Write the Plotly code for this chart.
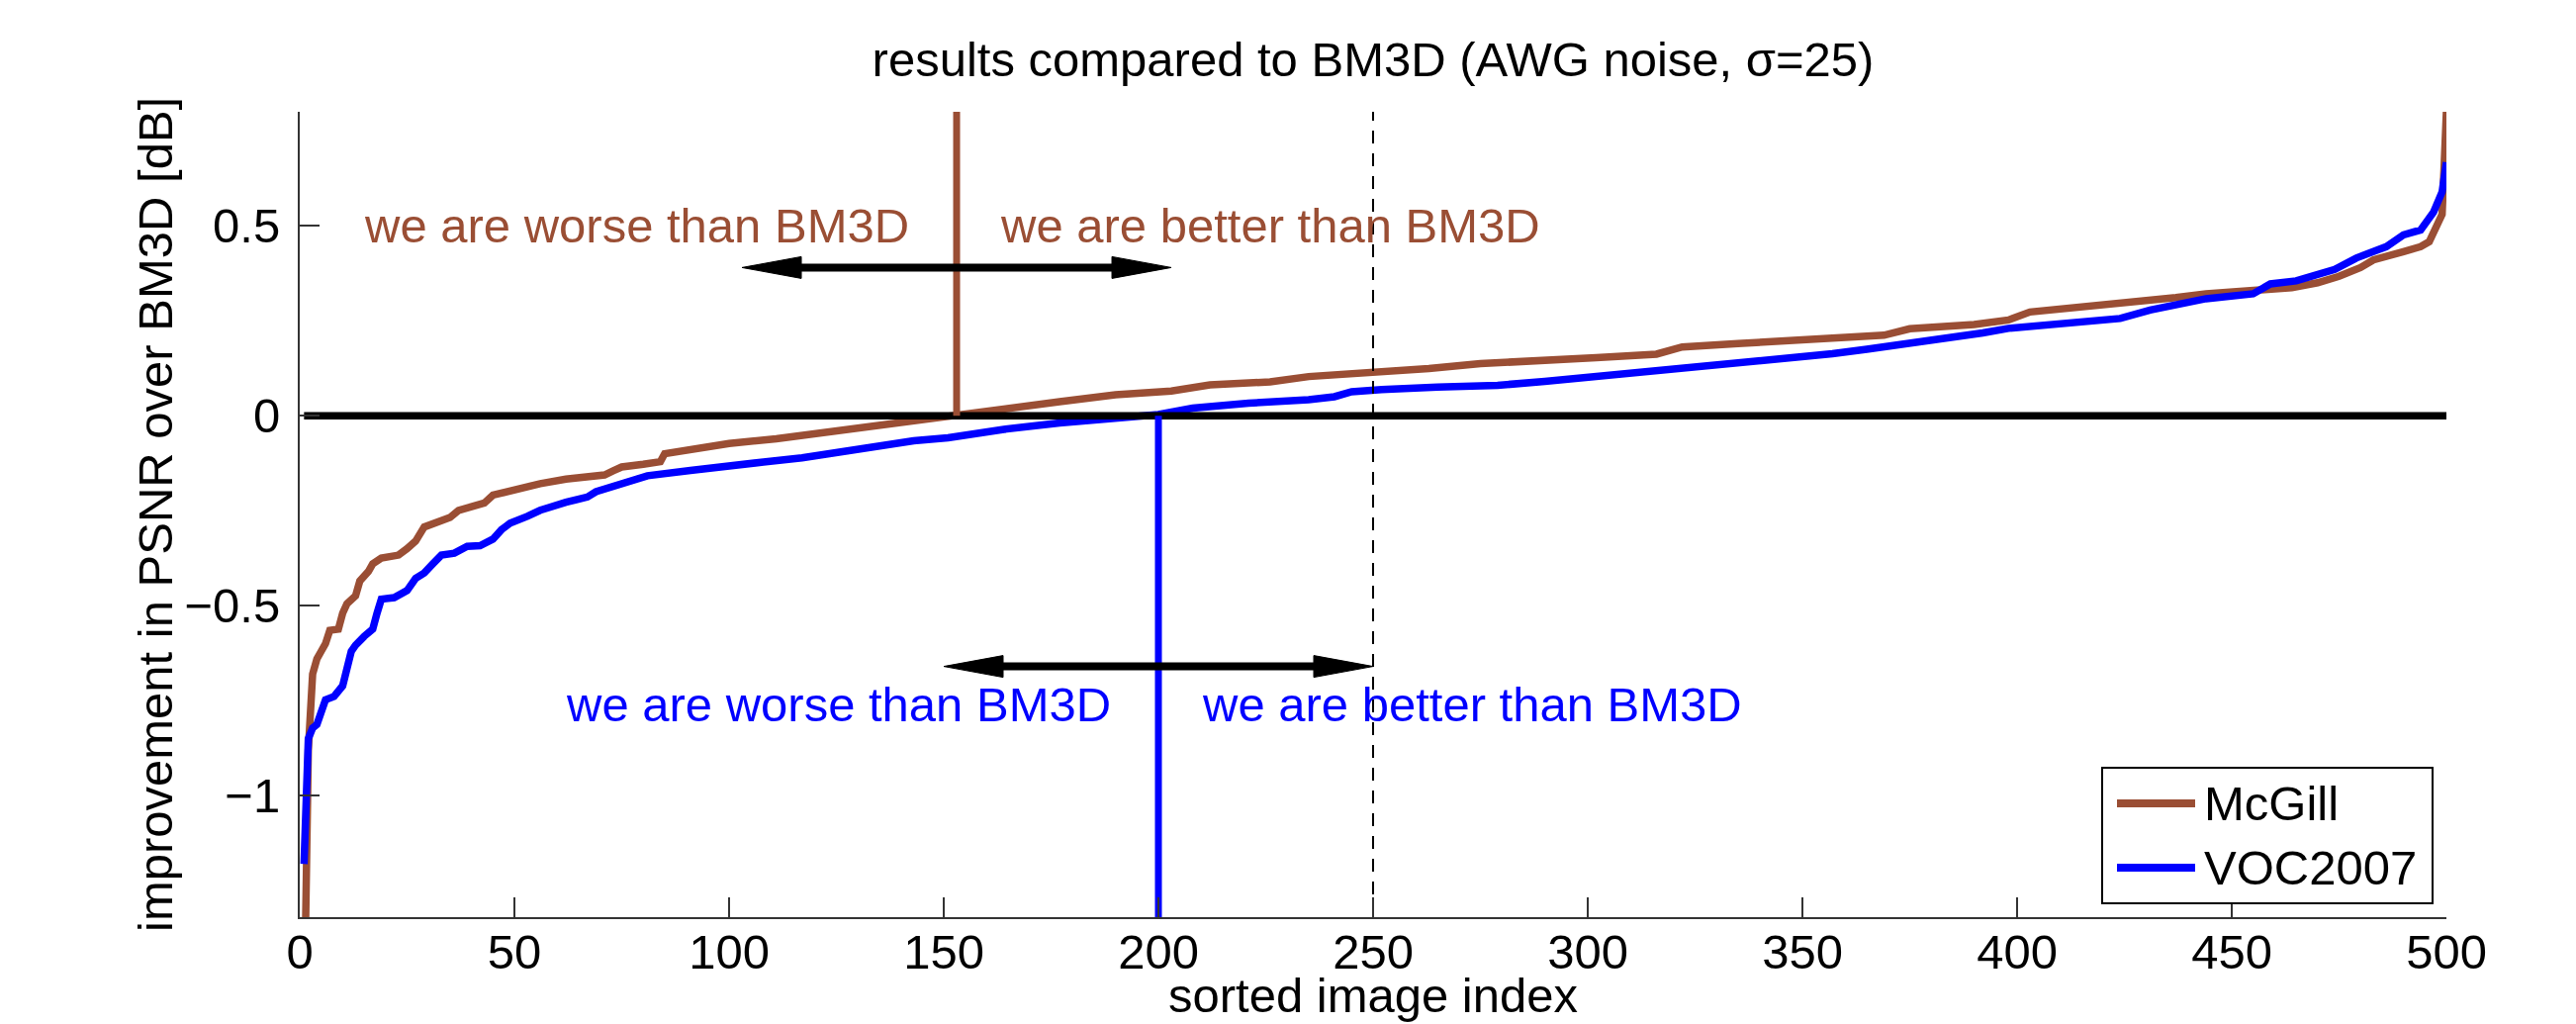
import plotly.graph_objects as go

# ---------------- data ----------------
mcgill_idx = [1, 2, 3, 4, 5, 6, 7, 9, 10, 11, 13, 14, 16, 17, 19, 23, 25, 27, 29, 32,
              35, 37, 41, 43, 45, 48, 52, 56, 62, 66, 71, 73, 75, 80, 84, 85, 91, 100,
              111, 123, 130, 135, 141, 146, 153, 164, 177, 190, 203, 212, 226, 235, 250,
              263, 275, 279, 290, 302, 316, 322, 335, 345, 360, 369, 375, 390, 398, 403,
              415, 424, 437, 444, 456, 464, 470, 475, 480, 483, 490, 494, 496, 497, 499, 500]
mcgill_val = [-1.60, -0.88, -0.68, -0.64, -0.62, -0.60, -0.565, -0.562, -0.52, -0.495,
              -0.474, -0.435, -0.41, -0.39, -0.375, -0.367, -0.35, -0.33, -0.293, -0.283,
              -0.268, -0.249, -0.239, -0.23, -0.209, -0.2, -0.186, -0.179, -0.167, -0.163,
              -0.156, -0.145, -0.135, -0.128, -0.121, -0.10, -0.088, -0.073,
              -0.061, -0.043, -0.034, -0.025, -0.013, -0.006, 0.003, 0.02, 0.037, 0.055,
              0.065, 0.081, 0.089, 0.103, 0.113,
              0.124, 0.137, 0.140, 0.146, 0.153, 0.162, 0.181, 0.19, 0.198, 0.206, 0.212,
              0.229, 0.24, 0.252, 0.273,
              0.285, 0.295, 0.311, 0.321, 0.328, 0.337, 0.35, 0.367, 0.39, 0.41, 0.432,
              0.445, 0.458, 0.484, 0.53, 0.80]

voc_idx = [1, 2, 3, 4, 5, 6, 8, 10, 12, 13, 15, 17, 18, 19, 22, 25, 27, 29, 31, 33,
           36, 39, 42, 45, 47, 49, 53, 56, 62, 67, 69, 73, 76, 81, 91, 100, 108, 117,
           123, 129, 137, 143, 151, 164, 177, 190, 200, 208, 221, 235, 241, 245, 252,
           265, 279, 290, 302, 315, 325, 337, 349, 357, 365, 375, 385, 392, 398, 410,
           424, 431, 437, 444, 455, 459, 465, 469, 474, 479, 486, 490, 494, 497, 499, 500]
voc_val = [-1.18, -0.85, -0.822, -0.813, -0.78, -0.748, -0.739, -0.711, -0.62, -0.604,
           -0.581, -0.562, -0.52, -0.483, -0.479, -0.46, -0.428, -0.414, -0.39, -0.367,
           -0.362, -0.344, -0.342, -0.325, -0.3, -0.283, -0.265, -0.249, -0.228, -0.214,
           -0.2, -0.185, -0.172, -0.158, -0.144, -0.130, -0.122, -0.111,
           -0.10, -0.088, -0.076, -0.066, -0.058, -0.036, -0.019, -0.006, 0.003, 0.02,
           0.033, 0.042, 0.05, 0.063, 0.069,
           0.075, 0.08, 0.09, 0.103, 0.115, 0.129, 0.14, 0.153, 0.163, 0.175, 0.19,
           0.205, 0.218, 0.23, 0.243,
           0.256, 0.278, 0.293, 0.308, 0.321, 0.347, 0.355, 0.367, 0.385, 0.415, 0.445,
           0.476, 0.489, 0.536, 0.589, 0.667]

x_ticks = [0, 50, 100, 150, 200, 250, 300, 350, 400, 450, 500]
y_ticks = [-1, -0.5, 0, 0.5]
y_tick_labels = ["\u22121", "\u22120.5", "0", "0.5"]

x_range = [0, 500]
y_range = [-1.32, 0.8]

mcgill_cross = 153      # index where McGill crosses 0
voc_cross = 200         # index where VOC2007 crosses 0
half_split = 250        # dashed line
arrow_half = 50         # half length of the double arrows
mcgill_arrow_y = 0.39
voc_arrow_y = -0.66
mcgill_text_y = 0.5
voc_text_y = -0.76

series_names = ["McGill", "VOC2007"]
BROWN = "#9A4E34"
BLUE = "#0000FF"
FONT = "Liberation Sans, Arial, Helvetica, sans-serif"
FS = 49

# ---------------- layout geometry ----------------
W, H = 2604, 1035
M = dict(l=303, r=131, t=113, b=108)
plot_w = W - M["l"] - M["r"]
plot_h = H - M["t"] - M["b"]
px_x = plot_w / (x_range[1] - x_range[0])
px_y = plot_h / (y_range[1] - y_range[0])


def px2paper_x(px):
    return (px - M["l"]) / plot_w


def py2paper_y(py):
    return (H - M["b"] - py) / plot_h


fig = go.Figure()

# curves
fig.add_trace(go.Scatter(x=mcgill_idx, y=mcgill_val, mode="lines", name=series_names[0],
                         line=dict(color=BROWN, width=7.5), showlegend=False))
fig.add_trace(go.Scatter(x=voc_idx, y=voc_val, mode="lines", name=series_names[1],
                         line=dict(color=BLUE, width=7.5), showlegend=False))

# zero line
fig.add_trace(go.Scatter(x=[mcgill_idx[0], mcgill_idx[-1]], y=[0, 0], mode="lines",
                         line=dict(color="black", width=7.5), showlegend=False, hoverinfo="skip"))

# vertical crossing lines
fig.add_trace(go.Scatter(x=[mcgill_cross, mcgill_cross], y=[0, y_range[1]], mode="lines",
                         line=dict(color=BROWN, width=7), showlegend=False, hoverinfo="skip"))
fig.add_trace(go.Scatter(x=[voc_cross, voc_cross], y=[0, y_range[0]], mode="lines",
                         line=dict(color=BLUE, width=7), showlegend=False, hoverinfo="skip"))

# dashed line
fig.add_trace(go.Scatter(x=[half_split, half_split], y=y_range, mode="lines",
                         line=dict(color="black", width=2, dash="13px,10px"),
                         showlegend=False, hoverinfo="skip"))

# double arrows
head_len = 60 / px_x
head_hw = 11 / px_y


def add_double_arrow(cx, y):
    left, right = cx - arrow_half, cx + arrow_half
    fig.add_trace(go.Scatter(x=[left + head_len * 0.9, right - head_len * 0.9], y=[y, y],
                             mode="lines", line=dict(color="black", width=8),
                             showlegend=False, hoverinfo="skip"))
    for tip, d in ((left, 1), (right, -1)):
        fig.add_trace(go.Scatter(x=[tip, tip + d * head_len, tip + d * head_len, tip],
                                 y=[y, y + head_hw, y - head_hw, y],
                                 mode="lines", fill="toself", fillcolor="black",
                                 line=dict(color="black", width=1),
                                 showlegend=False, hoverinfo="skip"))


add_double_arrow(mcgill_cross, mcgill_arrow_y)
add_double_arrow(voc_cross, voc_arrow_y)

# text annotations
ann = []
for cx, ty, col in ((mcgill_cross, mcgill_text_y, BROWN), (voc_cross, voc_text_y, BLUE)):
    ann.append(dict(x=cx, y=ty, xref="x", yref="y", text="we are worse than BM3D",
                    showarrow=False, xanchor="right", yanchor="middle", xshift=-46,
                    font=dict(family=FONT, size=FS, color=col)))
    ann.append(dict(x=cx, y=ty, xref="x", yref="y", text="we are better than BM3D",
                    showarrow=False, xanchor="left", yanchor="middle", xshift=42,
                    font=dict(family=FONT, size=FS, color=col)))

# axis titles as annotations
ann.append(dict(x=0.5, y=py2paper_y(1006), xref="paper", yref="paper", text="sorted image index",
                showarrow=False, xanchor="center", yanchor="middle",
                font=dict(family=FONT, size=FS, color="black")))
ann.append(dict(x=px2paper_x(157), y=0.5, xref="paper", yref="paper",
                text="improvement in PSNR over BM3D [dB]", textangle=-90,
                showarrow=False, xanchor="center", yanchor="middle",
                font=dict(family=FONT, size=FS, color="black")))

# custom legend (paper coordinates)
shapes = [dict(type="rect", xref="paper", yref="paper",
               x0=px2paper_x(2125), x1=px2paper_x(2459), y0=py2paper_y(913), y1=py2paper_y(776),
               line=dict(color="black", width=2), fillcolor="white", layer="above")]
for name, col, py in ((series_names[0], BROWN, 812), (series_names[1], BLUE, 877)):
    shapes.append(dict(type="line", xref="paper", yref="paper",
                       x0=px2paper_x(2140), x1=px2paper_x(2219), y0=py2paper_y(py), y1=py2paper_y(py),
                       line=dict(color=col, width=8), layer="above"))
    ann.append(dict(x=px2paper_x(2226), y=py2paper_y(py), xref="paper", yref="paper", text=name,
                    showarrow=False, xanchor="left", yanchor="middle",
                    font=dict(family=FONT, size=FS, color="black")))

fig.update_layout(
    width=W, height=H, margin=M,
    paper_bgcolor="white", plot_bgcolor="white",
    font=dict(family=FONT, size=FS, color="black"),
    title=dict(text="results compared to BM3D (AWG noise, \u03c3=25)", x=0.5, xref="paper",
               xanchor="center", y=1 - 60 / H, yanchor="middle",
               font=dict(family=FONT, size=FS, color="black")),
    annotations=ann, shapes=shapes, showlegend=False,
)
fig.update_xaxes(range=x_range, tickvals=x_ticks, ticks="inside", ticklen=20, tickwidth=1.5,
                 tickcolor="#333", showline=True, linecolor="#333", linewidth=2,
                 showgrid=False, zeroline=False, ticklabelstandoff=-9, automargin=False,
                 tickfont=dict(family=FONT, size=FS))
fig.update_yaxes(range=y_range, tickvals=y_ticks, ticktext=y_tick_labels, ticks="inside",
                 ticklen=20, tickwidth=1.5, tickcolor="#333", showline=True, linecolor="#333",
                 linewidth=2, showgrid=False, zeroline=False, ticklabelstandoff=8, automargin=False,
                 tickfont=dict(family=FONT, size=FS))

fig.write_html("out.html", config={"displayModeBar": False},
               post_script="document.body.style.margin='0';document.body.style.overflow='hidden';")
